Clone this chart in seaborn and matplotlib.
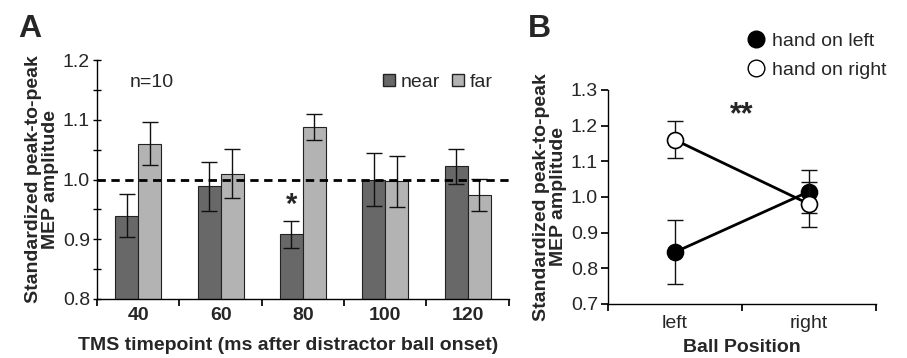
import numpy as np
import pandas as pd
import matplotlib
matplotlib.use('Agg')
import matplotlib.pyplot as plt
from matplotlib.lines import Line2D
from matplotlib.patches import Patch
import seaborn as sns

# panel A data
timepoints = ['40', '60', '80', '100', '120']
near_mean = [0.939, 0.989, 0.908, 1.000, 1.022]
near_sem = [0.036, 0.041, 0.022, 0.044, 0.029]
far_mean = [1.060, 1.010, 1.088, 0.997, 0.974]
far_sem = [0.036, 0.041, 0.022, 0.043, 0.027]

# panel B data
ball_pos = ['left', 'right']
hand_left_mean = [0.845, 1.015]
hand_left_sem = [0.089, 0.060]
hand_right_mean = [1.160, 0.980]
hand_right_sem = [0.052, 0.063]

sns.set_theme(style='ticks')
plt.rcParams['font.family'] = ['Liberation Sans', 'DejaVu Sans']
plt.rcParams['axes.linewidth'] = 1.0
FS = 14

fig = plt.figure(figsize=(9.07, 3.58), dpi=100)
axA = fig.add_axes([0.107, 0.165, 0.454, 0.667])
axB = fig.add_axes([0.670, 0.151, 0.296, 0.598])

# ---- panel A
df_a = pd.DataFrame({
    'time': timepoints * 2,
    'value': near_mean + far_mean,
    'cond': ['near'] * 5 + ['far'] * 5,
})
colors = {'near': '#686868', 'far': '#b3b3b3'}
sns.barplot(data=df_a, x='time', y='value', hue='cond', hue_order=['near', 'far'],
            palette=colors, width=0.56, errorbar=None, edgecolor='#222222',
            linewidth=0.8, legend=False, ax=axA)

bar_conts = list(axA.containers[:2])
for cont, sems in zip(bar_conts, [near_sem, far_sem]):
    xs = [b.get_x() + b.get_width() / 2 for b in cont]
    ys = [b.get_y() + b.get_height() for b in cont]
    axA.errorbar(xs, ys, yerr=sems, fmt='none', ecolor='#111111',
                 elinewidth=1.0, capsize=5.5, capthick=1.0, zorder=4)

axA.axhline(1.0, color='black', ls=(0, (3, 2)), lw=2, zorder=5)
axA.set_ylim(0.8, 1.2)
axA.set_xlim(-0.5, 4.5)
axA.set_yticks([0.8, 0.9, 1.0, 1.1, 1.2])
axA.set_yticklabels(['0.8', '0.9', '1.0', '1.1', '1.2'], fontsize=FS)
axA.set_yticks([0.85, 0.95, 1.05, 1.15], minor=True)
axA.tick_params(axis='y', which='both', direction='inout', length=6, width=1,
                color='black', pad=2)
axA.set_xticks(np.arange(-0.5, 5, 1))
axA.set_xticklabels([])
axA.set_xticks(np.arange(5), minor=True)
axA.set_xticklabels(timepoints, minor=True, fontsize=FS, fontweight='bold')
axA.tick_params(axis='x', which='major', direction='out', length=5, color='black')
axA.tick_params(axis='x', which='minor', length=0, pad=6)
axA.set_xlabel('TMS timepoint (ms after distractor ball onset)', fontsize=FS,
               fontweight='bold')
axA.xaxis.set_label_coords(0.465, -0.16)
axA.set_ylabel('Standardized peak-to-peak\nMEP amplitude', fontsize=FS,
               fontweight='bold', labelpad=3, linespacing=1.0)
sns.despine(ax=axA)
for sp in axA.spines.values():
    sp.set_color('black')

axA.text(0.08, 0.908, 'n=10', transform=axA.transAxes, fontsize=FS, va='center')
axA.text(2 - 0.14, 0.958, '*', fontsize=21, fontweight='bold', ha='center',
         va='center')
leg_a = [Patch(facecolor=colors[c], edgecolor='#222222', label=c)
         for c in ['near', 'far']]
axA.legend(handles=leg_a, loc='center right', bbox_to_anchor=(0.96, 0.908),
           ncol=2, frameon=False, fontsize=FS, handlelength=0.6,
           handleheight=0.6, handletextpad=0.3, columnspacing=0.6,
           borderpad=0, borderaxespad=0)

# ---- panel B
df_b = pd.DataFrame({
    'pos': ball_pos * 2,
    'value': hand_left_mean + hand_right_mean,
    'hand': ['hand on left'] * 2 + ['hand on right'] * 2,
})
sns.pointplot(data=df_b, x='pos', y='value', hue='hand',
              hue_order=['hand on left', 'hand on right'],
              palette=['black', 'black'], errorbar=None, markers='o',
              markersize=11.5, linewidth=2, legend=False, ax=axB)

pt_lines = [l for l in axB.lines if len(l.get_xdata()) == 2]
for line, sems, face, z in zip(pt_lines, [hand_left_sem, hand_right_sem],
                               ['black', 'white'], [3, 4]):
    line.set_markerfacecolor(face)
    line.set_markeredgecolor('black')
    line.set_markeredgewidth(1.2)
    line.set_zorder(z + 1)
    xy = line.get_xydata()
    axB.errorbar(xy[:, 0], xy[:, 1], yerr=sems, fmt='none', ecolor='#111111',
                 elinewidth=1.0, capsize=5.5, capthick=1.0, zorder=z)

axB.set_ylim(0.7, 1.3)
axB.set_xlim(-0.5, 1.5)
axB.set_yticks(np.arange(0.7, 1.31, 0.1))
axB.set_yticklabels(['0.7', '0.8', '0.9', '1.0', '1.1', '1.2', '1.3'],
                    fontsize=FS)
axB.tick_params(axis='y', direction='out', length=5, color='black', pad=2)
axB.set_xticks([-0.5, 0.5, 1.5])
axB.set_xticklabels([])
axB.set_xticks([0, 1], minor=True)
axB.set_xticklabels(ball_pos, minor=True, fontsize=FS)
axB.tick_params(axis='x', which='major', direction='out', length=5, color='black')
axB.tick_params(axis='x', which='minor', length=0, pad=8)
axB.set_xlabel('Ball Position', fontsize=FS, fontweight='bold', labelpad=5)
axB.set_ylabel('Standardized peak-to-peak\nMEP amplitude', fontsize=FS,
               fontweight='bold', labelpad=3, linespacing=1.0)
sns.despine(ax=axB)
for sp in axB.spines.values():
    sp.set_color('black')

axB.text(0.5, 1.23, '**', fontsize=22, fontweight='bold', ha='center',
         va='center')
leg_b = [Line2D([], [], ls='none', marker='o', markersize=12,
                markerfacecolor=f, markeredgecolor='black', label=lab)
         for f, lab in [('black', 'hand on left'), ('white', 'hand on right')]]
fig.legend(handles=leg_b, loc='upper left', bbox_to_anchor=(0.823, 0.91),
           frameon=False, fontsize=FS, handletextpad=0.3, labelspacing=0.6,
           borderpad=0, borderaxespad=0, handlelength=1.0)

fig.text(0.02, 0.96, 'A', fontsize=23, fontweight='bold', va='top')
fig.text(0.582, 0.96, 'B', fontsize=23, fontweight='bold', va='top')

fig.savefig('out.png', dpi=100)
